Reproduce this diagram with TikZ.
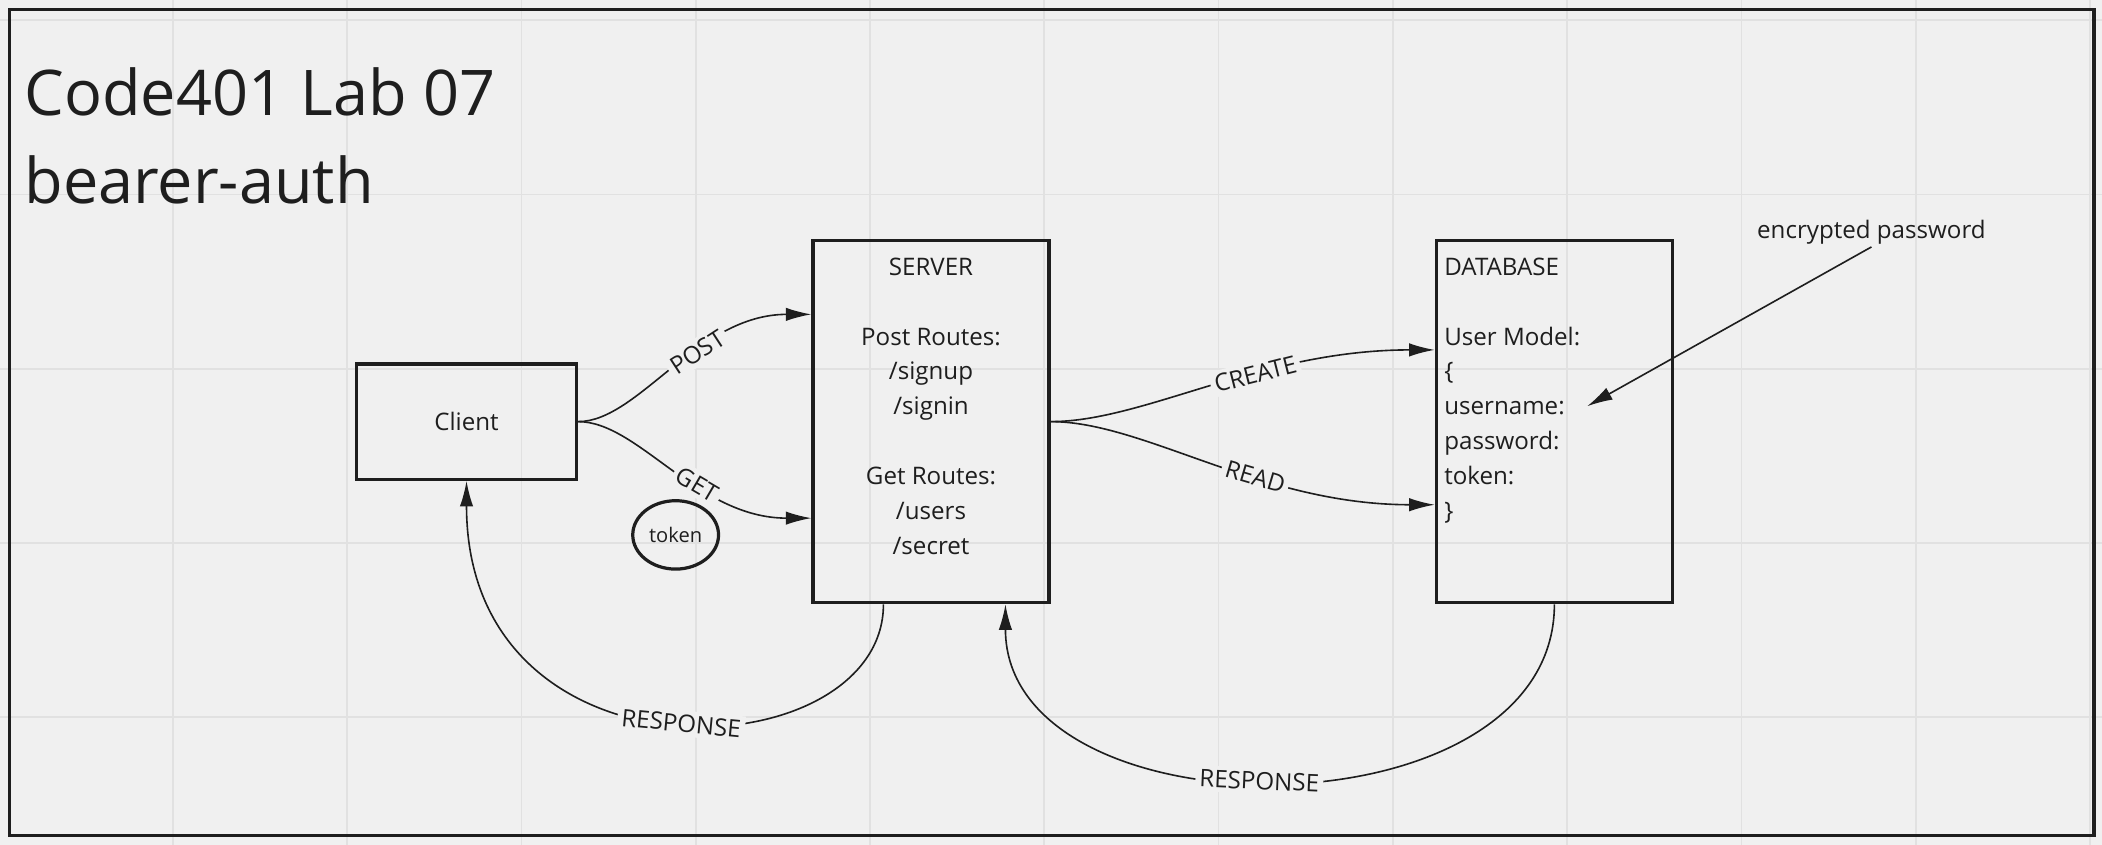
\documentclass[tikz,border=0pt]{standalone}
\usepackage{fontspec}
\setmainfont{Open Sans}
\usetikzlibrary{arrows.meta,shapes.geometric}
\definecolor{paper}{RGB}{240,240,240}
\definecolor{gridgray}{RGB}{225,225,225}
\definecolor{ink}{RGB}{30,30,30}
\begin{document}
\begin{tikzpicture}[x=1pt,y=-1pt,every node/.style={text=ink,font=\fontsize{18}{26}\selectfont},
    box/.style={draw=ink,line width=2.6pt,minimum width=176pt,minimum height=270pt},
    link/.style={draw=ink,line width=1.2pt,-{Latex[length=19pt,width=10pt]}},
    tag/.style={fill=paper,inner sep=3pt,sloped}]
    \useasboundingbox[fill=paper] (0,0) rectangle (1568,630);
    \foreach \x in {129,259,...,1559} \draw[gridgray,line width=1.3pt] (\x,0) -- (\x,630);
    \foreach \y in {15,145,...,535} \draw[gridgray,line width=1.3pt] (0,\y) -- (1568,\y);
    \draw[ink,line width=2.5pt] (7,7) rectangle (1562,623);
    \node[anchor=north west,inner sep=0,align=left,font=\fontsize{47}{66}\selectfont] (title) at (18,50) {Code401 Lab 07\\bearer-auth};
    \node[draw=ink,line width=2.6pt,minimum width=164pt,minimum height=86pt] (client) at (348,314.5) {Client};
    \node[box] (server) at (694.5,314.5) {};
    \node[anchor=north,inner sep=0,align=center] (serverText) at ([yshift=-14pt]server.north) {SERVER\\[26pt]Post Routes:\\ /signup\\ /signin\\[26pt]Get Routes:\\ /users\\ /secret};
    \node[box] (database) at (1159.5,314.5) {};
    \node[anchor=north west,inner sep=0,align=left] (databaseText) at ([xshift=7pt,yshift=-14pt]database.north west) {DATABASE\\[26pt]User Model:\\ \{\\ username:\\ password:\\ token:\\ \}};
    \node[ellipse,draw=ink,line width=2.4pt,minimum width=64pt,minimum height=51pt,inner sep=0,font=\fontsize{15}{18}\selectfont] (token) at (504,399) {token};
    \node[inner sep=2pt] (encrypted) at (1396,173) {encrypted password};
    \coordinate (usernameMark) at (1184,303);
    \draw[link] (client.east) .. controls +(45,0) and +(-85,0) .. ([yshift=80pt]server.west) node[tag,pos=0.6] (post) {POST};
    \draw[link] (client.east) .. controls +(45,0) and +(-85,0) .. ([yshift=-72pt]server.west) node[tag,pos=0.6] (get) {GET};
    \draw[link] (server.east) .. controls +(70,0) and +(-130,0) .. ([yshift=53.5pt]database.west) node[tag,pos=0.61] (create) {CREATE};
    \draw[link] (server.east) .. controls +(70,0) and +(-130,0) .. ([yshift=-62pt]database.west) node[tag,pos=0.61] (read) {READ};
    \draw[link] ([xshift=-35.5pt]server.south) .. controls +(0,124) and +(0,234) .. (client.south) node[tag,pos=0.49] (responseClient) {RESPONSE};
    \draw[link] (database.south) .. controls +(0,176) and +(0,176) .. ([xshift=55.5pt]server.south) node[tag,pos=0.525] (responseServer) {RESPONSE};
    \draw[link] (encrypted.south) -- (usernameMark);
\end{tikzpicture}
\end{document}
